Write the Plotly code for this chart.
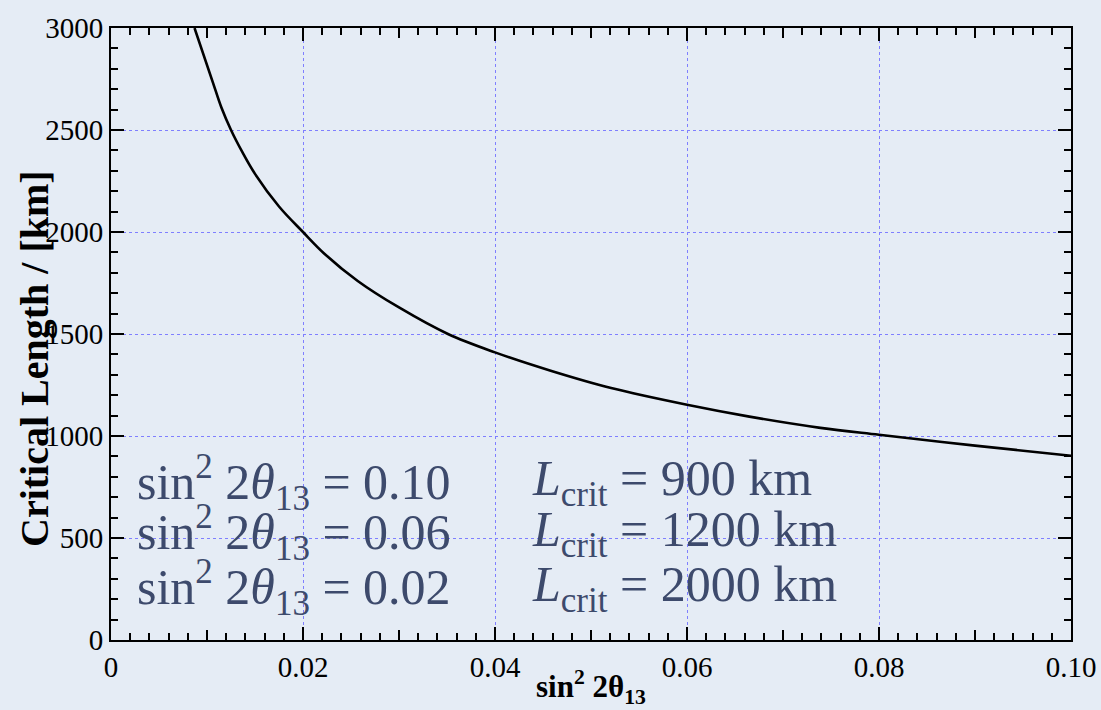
import plotly.graph_objects as go

# data
sin2_2theta13 = [0.0087, 0.0106, 0.0115, 0.0125, 0.0137, 0.0150, 0.0175, 0.0200, 0.0222, 0.0257,
                 0.0300, 0.0351, 0.0400, 0.0458, 0.0521, 0.0600, 0.0665, 0.0739, 0.0800,
                 0.0900, 0.1000]
critical_length = [3000, 2735, 2610, 2500, 2390, 2285, 2125, 2000, 1895, 1760,
                   1630, 1500, 1410, 1320, 1235, 1153, 1095, 1040, 1006,
                   953, 903]

x_ticks = [0, 0.02, 0.04, 0.06, 0.08, 0.10]
x_ticklabels = ["0", "0.02", "0.04", "0.06", "0.08", "0.10"]
x_mid_ticks = [0.01, 0.03, 0.05, 0.07, 0.09]
y_ticks = [0, 500, 1000, 1500, 2000, 2500, 3000]
y_ticklabels = ["0", "500", "1000", "1500", "2000", "2500", "3000"]

left_labels = ["sin<sup>2</sup> 2<i>θ</i><sub>13</sub> = 0.10",
               "sin<sup>2</sup> 2<i>θ</i><sub>13</sub> = 0.06",
               "sin<sup>2</sup> 2<i>θ</i><sub>13</sub> = 0.02"]
right_labels = ["<i>L</i><sub>crit</sub> = 900 km",
                "<i>L</i><sub>crit</sub> = 1200 km",
                "<i>L</i><sub>crit</sub> = 2000 km"]
label_rows_y = [0.258, 0.175, 0.085]

TXT = "#3d4a6c"
BG = "#e5ecf5"
GRID = "#7f7fff"
FONT = "Liberation Serif"

W, H = 1101, 710
ML, MR, MT, MB = 111, 30, 28, 70
PW = W - ML - MR
PH = H - MT - MB

fig = go.Figure()
fig.add_trace(go.Scatter(x=sin2_2theta13, y=critical_length, mode="lines",
                         line=dict(color="black", width=2.6, shape="spline", smoothing=1.0),
                         showlegend=False, hoverinfo="skip"))
# helper trace for the medium-length tick axis
fig.add_trace(go.Scatter(x=[0, 0.1], y=[0, 0], xaxis="x2", mode="lines",
                         line=dict(width=0), showlegend=False, hoverinfo="skip"))

common = dict(showline=True, linecolor="black", linewidth=2, mirror="ticks",
              ticks="inside", tickcolor="black", tickwidth=1.6, zeroline=False,
              tickfont=dict(family=FONT, size=29, color="black"))

fig.update_layout(
    width=W, height=H,
    margin=dict(l=ML, r=MR, t=MT, b=MB, autoexpand=False),
    paper_bgcolor=BG, plot_bgcolor=BG,
    xaxis=dict(range=[0, 0.1], tickvals=x_ticks, ticktext=x_ticklabels, ticklen=13,
               showgrid=True, gridcolor=GRID, griddash="dot", gridwidth=1,
               minor=dict(dtick=0.002, ticklen=7, ticks="inside", tickcolor="black",
                          tickwidth=1.6, showgrid=False),
               **common),
    xaxis2=dict(range=[0, 0.1], overlaying="x", side="bottom", tickvals=x_mid_ticks,
                showticklabels=False, ticks="inside", ticklen=10, tickcolor="black", tickwidth=1.6,
                showline=False, mirror="ticks", showgrid=False, zeroline=False),
    yaxis=dict(range=[0, 3000], tickvals=y_ticks, ticktext=y_ticklabels, ticklen=13,
               showgrid=True, gridcolor=GRID, griddash="dot", gridwidth=1,
               minor=dict(dtick=100, ticklen=7, ticks="inside", tickcolor="black",
                          tickwidth=1.6, showgrid=False),
               **common),
)

ann = []
ann.append(dict(text="<b>sin<sup>2</sup> 2θ<sub>13</sub></b>", x=(591 - ML) / PW, xref="paper",
                xanchor="center", y=(MT + PH - 663) / PH, yref="paper", yanchor="top",
                showarrow=False, font=dict(family=FONT, size=31, color="black")))
ann.append(dict(text="<b>Critical Length / [km]</b>", x=(34 - ML) / PW, xref="paper",
                xanchor="center", y=(MT + PH - 359) / PH, yref="paper", yanchor="middle",
                textangle=-90, showarrow=False,
                font=dict(family=FONT, size=40, color="black")))
for lt, rt, yy in zip(left_labels, right_labels, label_rows_y):
    ann.append(dict(text=lt, x=(135 - ML) / PW, xref="paper", xanchor="left", y=yy, yref="paper",
                    yanchor="middle", showarrow=False,
                    font=dict(family=FONT, size=50, color=TXT)))
    ann.append(dict(text=rt, x=(530 - ML) / PW, xref="paper", xanchor="left", y=yy, yref="paper",
                    yanchor="middle", showarrow=False,
                    font=dict(family=FONT, size=50, color=TXT)))
fig.update_layout(annotations=ann)

fig.write_html("out.html", config={"displayModeBar": False},
               post_script="document.body.style.margin='0';document.body.style.background='%s';" % BG)
